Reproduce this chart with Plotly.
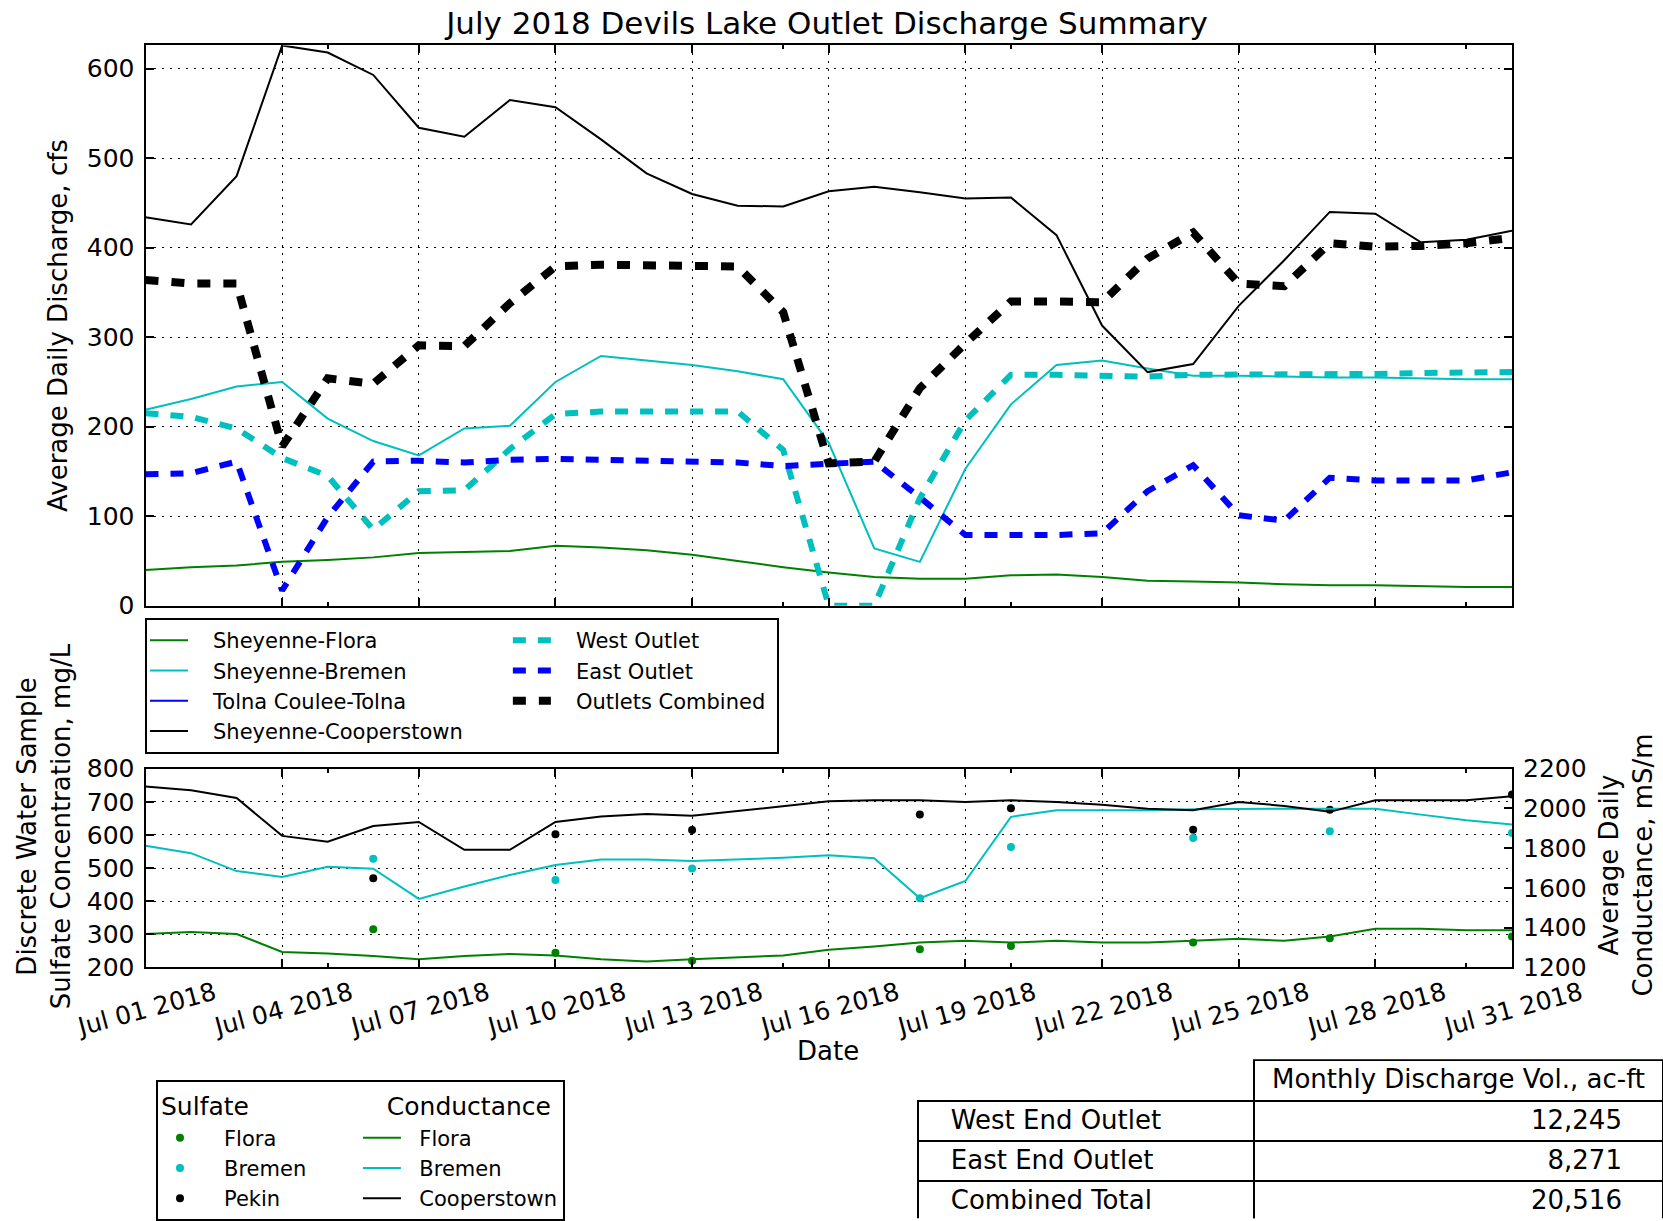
import plotly.graph_objects as go

W, H = 1663, 1221


def px(x):
    return x / W


def py(y):
    return 1 - y / H


# ---------------- data ----------------
dates = [f"2018-07-{d:02d}" for d in range(1, 32)]

flora_q = [40, 43, 45, 49, 51, 54, 59, 60, 61, 67, 65, 62, 57, 50, 43, 37,
           32, 30, 30, 34, 35, 32, 28, 27, 26, 24, 23, 23, 22, 21, 21]
bremen_q = [219, 231, 245, 250, 209, 184, 168, 198, 201, 250, 279, 274, 269,
            262, 253, 182, 64, 49, 153, 225, 269, 274, 265, 257, 257, 256,
            255, 255, 254, 253, 253]
tolna_dates = ["2018-07-01"]
tolna_q = [None]          # no Tolna data reported for the month
cooper_q = [434, 426, 480, 626, 618, 593, 534, 524, 565, 557, 521, 483, 460,
            447, 446, 463, 468, 462, 455, 456, 414, 313, 261, 270, 335, 386,
            440, 438, 406, 409, 419]
west_q = [215, 211, 198, 165, 145, 85, 128, 129, 175, 214, 217, 217, 216, 217,
          174, 0, 0, 120, 207, 258, 258, 257, 256, 258, 258, 258, 258, 259,
          260, 261, 261]
east_q = [147, 148, 161, 17, 99, 161, 162, 160, 163, 164, 163, 162, 161, 160,
          156, 159, 161, 121, 79, 79, 79, 81, 128, 157, 101, 95, 143, 140,
          140, 140, 149]
combined_q = [364, 360, 360, 178, 254, 248, 291, 290, 338, 379, 381, 381, 379,
              379, 328, 159, 161, 243, 293, 340, 340, 339, 388, 417, 360, 357,
              405, 401, 402, 405, 411]

cond_flora = [1368, 1378, 1368, 1278, 1270, 1258, 1241, 1258, 1268, 1260,
              1241, 1230, 1241, 1250, 1260, 1289, 1305, 1325, 1334, 1325,
              1334, 1325, 1325, 1334, 1344, 1334, 1356, 1394, 1394, 1387, 1387]
cond_bremen = [1812, 1775, 1685, 1655, 1707, 1697, 1545, 1607, 1665, 1715,
               1743, 1743, 1735, 1743, 1752, 1765, 1749, 1548, 1635, 1958,
               1991, 1991, 1991, 1996, 1999, 1999, 1999, 1999, 1969, 1941, 1919]
cond_cooper = [2111, 2092, 2053, 1862, 1833, 1912, 1932, 1792, 1792, 1932,
               1960, 1972, 1963, 1988, 2012, 2036, 2041, 2041, 2033, 2041,
               2033, 2019, 1999, 1991, 2033, 2013, 1983, 2041, 2041, 2041, 2061]

sample_dates = ["2018-07-06", "2018-07-10", "2018-07-13", "2018-07-18",
                "2018-07-20", "2018-07-24", "2018-07-27", "2018-07-31"]
sulf_flora = [315, 244, 220, 255, 265, 275, 288, 293]
sulf_bremen = [528, 464, 499, 409, 564, 591, 611, 606]
sulf_pekin = [469, 602, 615, 662, 681, 616, 676, 722]

table_rows = ["West End Outlet", "East End Outlet", "Combined Total"]
table_vals = ["12,245", "8,271", "20,516"]
table_header = "Monthly Discharge Vol., ac-ft"

title_text = "July 2018 Devils Lake Outlet Discharge Summary"

# ---------------- style ----------------
FONT = "DejaVu Sans"
GREEN = "#008000"
CYAN = "#00BFBF"
BLUE = "#0000FF"
BLACK = "#000000"
DAY = 86400000
NB = "\u00a0"   # non-breaking space, used only for legend/table spacing


def pad(text, left=0, right=0):
    return NB * left + text + NB * right


fig = go.Figure()

# top panel
top = [
    ("Sheyenne-Flora", dates, flora_q, GREEN, 2, "solid", "left", 0),
    ("Sheyenne-Bremen", dates, bremen_q, CYAN, 2, "solid", "left", 0),
    ("Tolna Coulee-Tolna", tolna_dates, tolna_q, BLUE, 2, "solid", "left", 0),
    ("Sheyenne-Cooperstown", dates, cooper_q, BLACK, 2, "solid", "left", 6),
    ("West Outlet", dates, west_q, CYAN, 6, "13px,12px", "right", 0),
    ("East Outlet", dates, east_q, BLUE, 6, "13px,12px", "right", 0),
    ("Outlets Combined", dates, combined_q, BLACK, 8, "13px,13px", "right", 1),
]
for name, xs, ys, col, w, dash, grp, rpad in top:
    fig.add_trace(go.Scatter(
        x=xs, y=ys, name=pad(name, 3, rpad), mode="lines",
        line=dict(color=col, width=w, dash=dash),
        xaxis="x", yaxis="y", legend="legend", legendgroup=grp,
    ))

# bottom panel: sulfate samples (left axis)
for name, ys, col, rpad in [("Flora", sulf_flora, GREEN, 0),
                            ("Bremen", sulf_bremen, CYAN, 7),
                            ("Pekin", sulf_pekin, BLACK, 0)]:
    fig.add_trace(go.Scatter(
        x=sample_dates, y=ys, name=pad(name, 3, rpad), mode="markers",
        marker=dict(color=col, size=8),
        xaxis="x2", yaxis="y2", legend="legend2", legendgroup="sulf",
        legendgrouptitle=dict(text="Sulfate", font=dict(size=25, family=FONT)),
    ))
# bottom panel: conductance (right axis)
for name, ys, col in [("Flora", cond_flora, GREEN), ("Bremen", cond_bremen, CYAN),
                      ("Cooperstown", cond_cooper, BLACK)]:
    fig.add_trace(go.Scatter(
        x=dates, y=ys, name=pad(name, 2), mode="lines",
        line=dict(color=col, width=2),
        xaxis="x2", yaxis="y3", legend="legend2", legendgroup="cond",
        legendgrouptitle=dict(text=pad("Conductance", 3), font=dict(size=25, family=FONT)),
    ))

# table
fig.add_trace(go.Table(
    domain=dict(x=[px(918), 1.0], y=[0, py(1062)]),
    columnwidth=[336, 409],
    header=dict(
        values=["", table_header],
        align=["left", "center"],
        height=41,
        fill=dict(color=["rgba(0,0,0,0)", "white"]),
        line=dict(color=["rgba(0,0,0,0)", BLACK], width=2),
        font=dict(family=FONT, size=26, color=BLACK),
    ),
    cells=dict(
        values=[[pad(r, 3) for r in table_rows], [pad(v, 0, 4) for v in table_vals]],
        align=["left", "right"],
        height=40,
        fill=dict(color="white"),
        line=dict(color=BLACK, width=2),
        font=dict(family=FONT, size=26, color=BLACK),
    ),
))

x_dom = [px(145.5), px(1512)]
axis_common = dict(
    showline=True, linecolor=BLACK, linewidth=2,
    ticks="inside", ticklen=8, tickwidth=1.5, tickcolor=BLACK,
    gridcolor=BLACK, gridwidth=1, griddash="2px,6px",
    zeroline=False, automargin=False,
    tickfont=dict(family=FONT, size=25, color=BLACK),
)
xcommon = dict(
    axis_common,
    type="date", range=["2018-07-01", "2018-07-31"],
    tick0="2018-07-01", dtick=3 * DAY, showgrid=True, mirror="ticks",
    minor=dict(ticks="inside", ticklen=4, tickcolor=BLACK, dtick=5 * DAY,
               tick0="2018-07-05", showgrid=False),
)

legend_common = dict(
    xanchor="left", yanchor="top", orientation="h", traceorder="grouped",
    tracegroupgap=0, itemwidth=38, bgcolor="white", bordercolor=BLACK,
    borderwidth=2, font=dict(family=FONT, size=21, color=BLACK),
)

fig.update_layout(
    width=W, height=H, autosize=False,
    margin=dict(l=0, r=0, t=0, b=0),
    paper_bgcolor="white", plot_bgcolor="white",
    font=dict(family=FONT, size=21, color=BLACK),
    showlegend=True,
    title=dict(text=title_text, x=px(827), y=py(23), xref="paper", yref="paper",
               xanchor="center", yanchor="middle",
               font=dict(family=FONT, size=31, color=BLACK)),
    xaxis=dict(xcommon, domain=x_dom, anchor="y", showticklabels=False, matches="x2"),
    xaxis2=dict(xcommon, domain=x_dom, anchor="y2", showticklabels=True,
                tickformat="%b %d %Y", tickangle=-15, ticklabelshift=69),
    yaxis=dict(axis_common, domain=[py(606.7), py(45.5)], anchor="x",
               range=[0, 626], tick0=0, dtick=100, showgrid=True, mirror="ticks",
               ticklabelstandoff=4),
    yaxis2=dict(axis_common, domain=[py(969), py(770)], anchor="x2",
                range=[200, 800], tick0=200, dtick=100, showgrid=True,
                ticklabelstandoff=4),
    yaxis3=dict(axis_common, overlaying="y2", side="right", anchor="x2",
                range=[1200, 2200], tick0=1200, dtick=200, showgrid=False,
                ticklabelstandoff=4),
    legend=dict(legend_common, x=px(145), y=py(619)),
    legend2=dict(legend_common, x=px(156), y=py(1082)),
)

ann = dict(showarrow=False, xref="paper", yref="paper", xanchor="center",
           yanchor="middle", font=dict(family=FONT, size=26, color=BLACK))
fig.add_annotation(ann, text="Average Daily Discharge, cfs", x=px(58), y=py(326.5),
                   textangle=-90)
fig.add_annotation(ann, text="Discrete Water Sample<br>Sulfate Concentration, mg/L",
                   x=px(43.5), y=py(828), textangle=-90)
fig.add_annotation(ann, text="Average Daily<br>Conductance, mS/m", x=px(1626),
                   y=py(867), textangle=-90)
fig.add_annotation(ann, text="Date", x=px(828), y=py(1053))

fig.write_html("out.html", config={"displayModeBar": False},
               post_script="document.body.style.margin='0';document.body.style.overflow='hidden';")
